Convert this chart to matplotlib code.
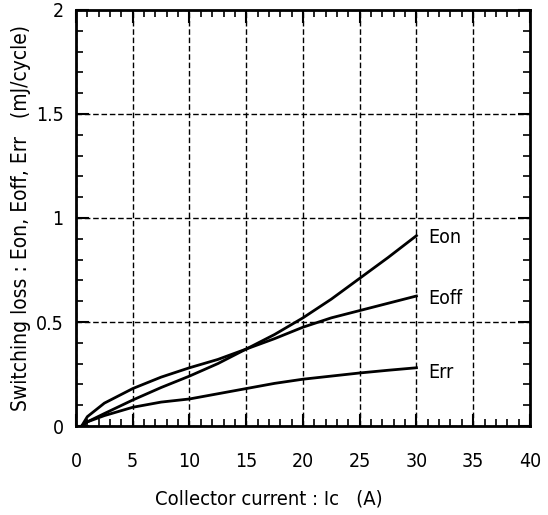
import numpy as np
import matplotlib as mpl
import matplotlib.pyplot as plt
from matplotlib.ticker import MultipleLocator

mpl.rc("font", family=["DejaVu Sans"], stretch="condensed")

# values
ic = [0.5, 1, 2.5, 5, 7.5, 10, 12.5, 15, 17.5, 20, 22.5, 25, 27.5, 30]
eon = [0, 0.02, 0.06, 0.125, 0.185, 0.24, 0.30, 0.37, 0.44, 0.52, 0.61, 0.71, 0.81, 0.915]
eoff = [0, 0.045, 0.11, 0.18, 0.235, 0.28, 0.32, 0.37, 0.42, 0.475, 0.52, 0.555, 0.59, 0.625]
err = [0, 0.02, 0.05, 0.09, 0.115, 0.13, 0.155, 0.18, 0.205, 0.225, 0.24, 0.255, 0.268, 0.28]
labels = ["Eon", "Eoff", "Err"]
label_y = [0.905, 0.615, 0.255]

fig = plt.figure(figsize=(5.48, 5.15), dpi=100)
ax = fig.add_axes([0.1387, 0.1728, 0.967 - 0.1387, 0.9806 - 0.1728])

for ys in (eon, eoff, err):
    ax.plot(ic, ys, "-k", lw=2)
for name, yl in zip(labels, label_y):
    ax.text(31.0, yl, name, ha="left", va="center", fontsize=14)

ax.set_xlim(0, 40)
ax.set_ylim(0, 2)
ax.xaxis.set_major_locator(MultipleLocator(5))
ax.xaxis.set_minor_locator(MultipleLocator(1))
ax.yaxis.set_minor_locator(MultipleLocator(0.1))
ax.set_yticks([0, 0.5, 1, 1.5, 2])
ax.set_yticklabels(["0", "0.5", "1", "1.5", "2"])

ax.grid(True, which="major", color="k", ls=(0, (4, 2)), lw=1)
ax.tick_params(which="both", direction="in", top=True, right=True, labelsize=14, colors="k")
ax.tick_params(which="major", length=9, width=1.5)
ax.tick_params(which="minor", length=5, width=1.2)
ax.tick_params(axis="x", which="major", pad=19)
ax.tick_params(axis="y", which="major", pad=9)
for s in ax.spines.values():
    s.set_linewidth(2)

ax.set_xlabel("Collector current : Ic   (A)", fontsize=14.5)
ax.xaxis.set_label_coords(0.425, -0.152)
ax.set_ylabel("Switching loss : Eon, Eoff, Err   (mJ/cycle)", fontsize=15)
ax.yaxis.set_label_coords(-0.1, 0.5)

plt.savefig("out.png", dpi=100)
